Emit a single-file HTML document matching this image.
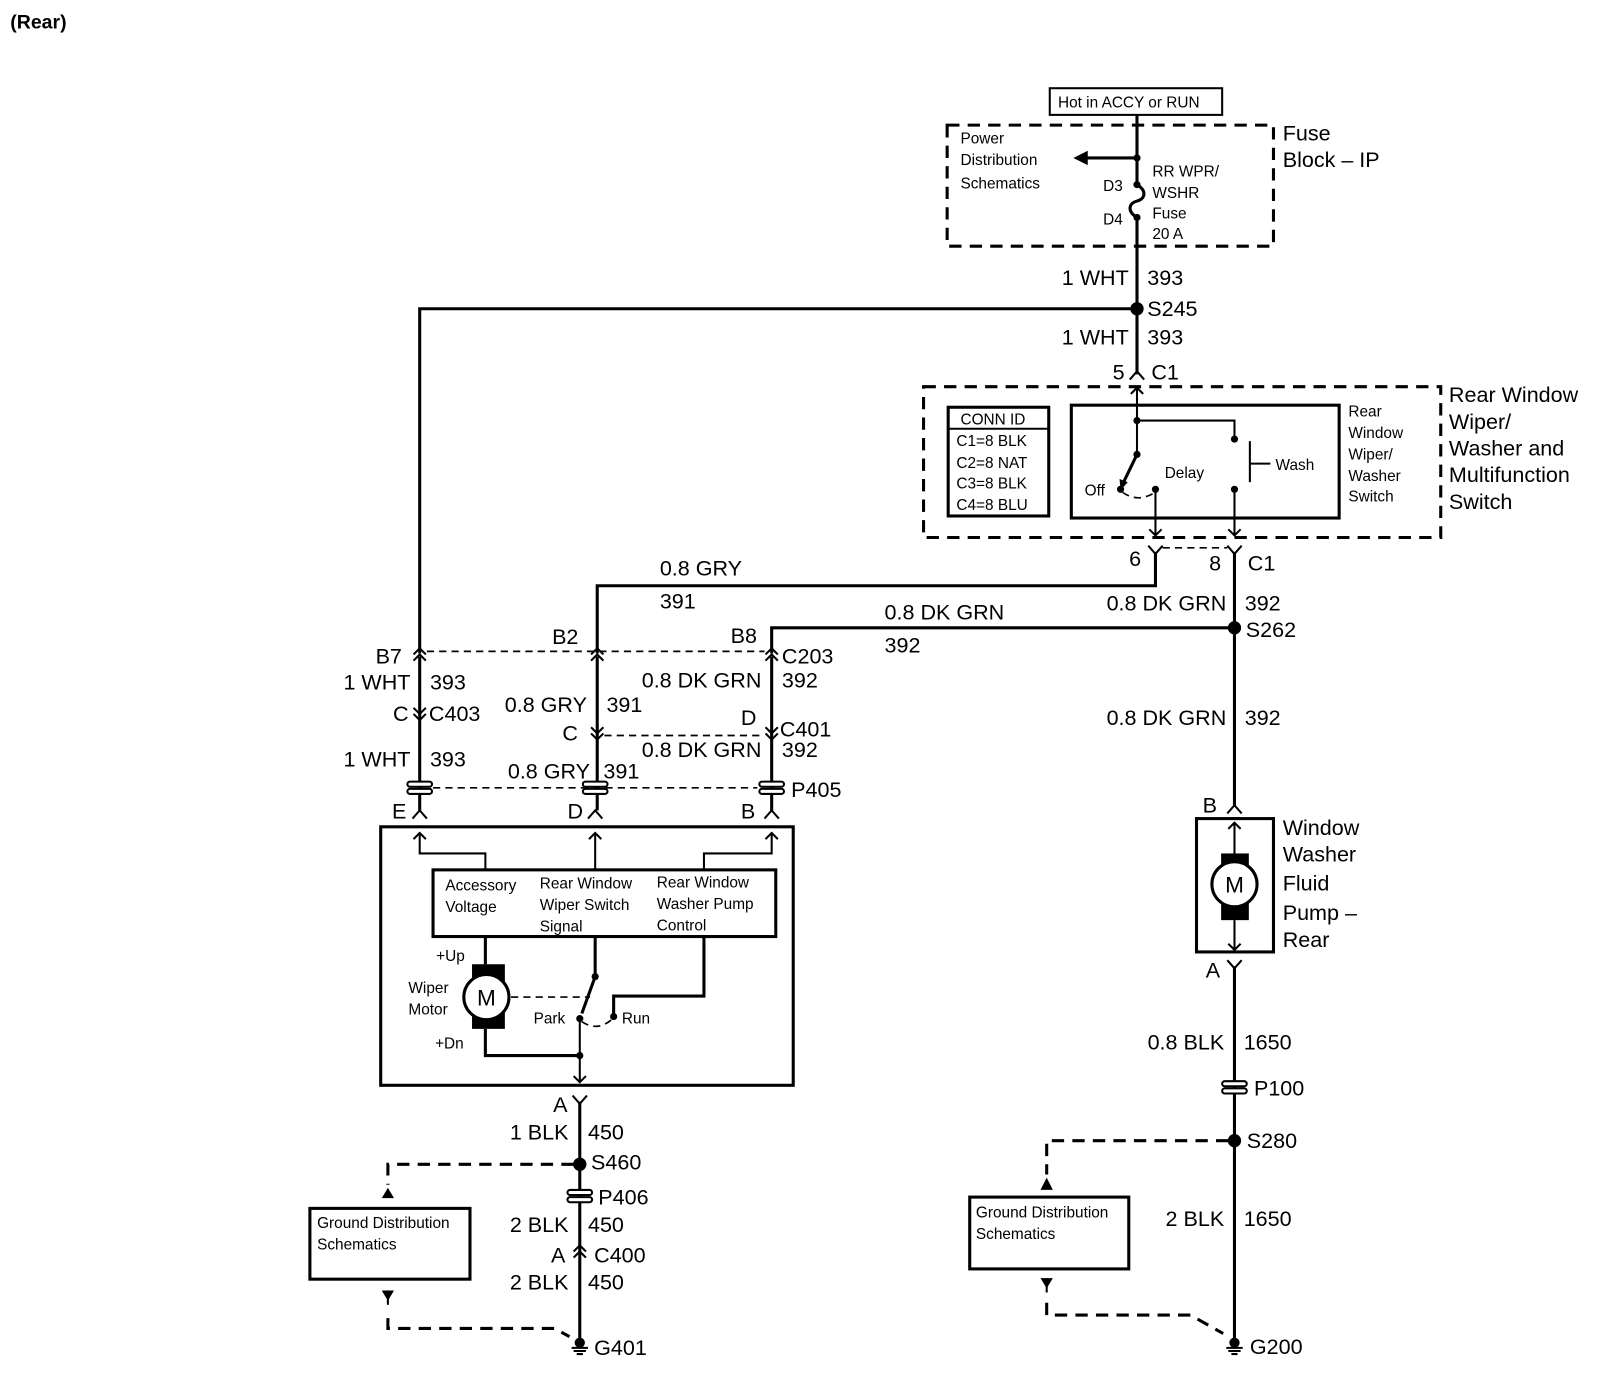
<!DOCTYPE html>
<html><head><meta charset="utf-8"><style>
html,body{margin:0;padding:0;background:#fff;}
svg{display:block;}
text{font-family:"Liberation Sans",Arial,sans-serif;fill:#000;}
.b{font-size:21px;}
.s{font-size:15px;}
.w{stroke:#000;stroke-width:3;fill:none;}
.t{stroke:#000;stroke-width:2;fill:none;}
.d{stroke:#000;stroke-width:3;fill:none;stroke-dasharray:12 8;}
.dd{stroke:#000;stroke-width:1.6;fill:none;stroke-dasharray:7 5;}
</style></head><body>
<svg width="1608" height="1392" viewBox="0 0 1567 1357" preserveAspectRatio="none" xmlns="http://www.w3.org/2000/svg">
<defs>
<g id="up2"><path class="t" d="M-6 -2 L0 -8 L6 -2 M-6 4 L0 -2 L6 4"/></g>
<g id="dn2"><path class="t" d="M-6 2 L0 8 L6 2 M-6 -4 L0 2 L6 -4"/></g>
<g id="fem"><path class="t" d="M-7 6 L0 -2 L7 6"/></g>
<g id="male"><path class="t" d="M-7 -6 L0 2 L7 -6"/></g>
<g id="aup"><path class="t" d="M-6 6 L0 0 L6 6"/></g>
<g id="adn"><path class="t" d="M-6 -6 L0 0 L6 -6"/></g>
<g id="pass"><rect x="-12" y="-6" width="24" height="5" rx="2.5" fill="#fff" stroke="#000" stroke-width="2"/><rect x="-12" y="1" width="24" height="5" rx="2.5" fill="#fff" stroke="#000" stroke-width="2"/></g>
<g id="gnd"><circle cx="0" cy="-3" r="5"/><path class="t" d="M-8 2 H8 M-6 5 H6 M-3 8 H3"/></g>
</defs>

<text x="10" y="28" font-size="19" font-weight="bold">(Rear)</text>

<rect x="1023" y="86" width="168" height="26" class="t" stroke-width="2.5"/>
<text x="1031" y="105" class="s">Hot in ACCY or RUN</text>
<rect x="923" y="122" width="318" height="118" class="d"/>
<path class="w" d="M1108 112 V180 M1108 212 V365"/>
<path class="w" d="M1108 180 C1118 186 1116 194 1108 196 C1100 198 1098 206 1108 212"/>
<path class="w" d="M1108 154 H1056"/><path d="M1046 154 L1060 147 L1060 161 Z"/>
<circle cx="1108" cy="154" r="3.5"/><circle cx="1108" cy="180" r="3.5"/><circle cx="1108" cy="212" r="3.5"/>
<text x="936" y="140" class="s">Power</text><text x="936" y="161" class="s">Distribution</text><text x="936" y="184" class="s">Schematics</text>
<text x="1075" y="186" class="s">D3</text><text x="1075" y="219" class="s">D4</text>
<text x="1123" y="172" class="s">RR WPR/</text><text x="1123" y="193" class="s">WSHR</text><text x="1123" y="213" class="s">Fuse</text><text x="1123" y="233" class="s">20 A</text>
<text x="1250" y="137" class="b">Fuse</text><text x="1250" y="163" class="b">Block – IP</text>

<text x="1100" y="278" class="b" text-anchor="end">1 WHT</text><text x="1118" y="278" class="b">393</text>
<circle cx="1108" cy="301" r="6.5"/><text x="1118" y="308" class="b">S245</text>
<path class="w" d="M1108 301 H409 V637"/>
<text x="1100" y="336" class="b" text-anchor="end">1 WHT</text><text x="1118" y="336" class="b">393</text>
<use href="#fem" x="1108" y="364"/>
<text x="1096" y="370" class="b" text-anchor="end">5</text><text x="1122" y="370" class="b">C1</text>

<rect x="900" y="377" width="504" height="147" class="d"/>
<rect x="924" y="397" width="98" height="106" class="w"/>
<line x1="924" y1="418" x2="1022" y2="418" class="t"/>
<text x="936" y="414" class="s">CONN ID</text>
<text x="932" y="435" class="s">C1=8 BLK</text><text x="932" y="456" class="s">C2=8 NAT</text>
<text x="932" y="476" class="s">C3=8 BLK</text><text x="932" y="497" class="s">C4=8 BLU</text>
<rect x="1044" y="395" width="261" height="110" class="w"/>
<path class="t" d="M1108 378 V443 M1108 410 H1203 V428"/><use href="#aup" x="1108" y="378"/>
<circle cx="1108" cy="410" r="3.5"/><circle cx="1108" cy="443" r="3.5"/><circle cx="1203" cy="428" r="3.5"/>
<path class="w" d="M1108 443 L1094 472"/><path d="M1092 478 L1091 467 L1099 470 Z"/>
<circle cx="1092" cy="477" r="3.5"/><circle cx="1126" cy="477" r="3.5"/><circle cx="1203" cy="477" r="3.5"/>
<path class="dd" d="M1094 480 Q1108 490 1124 481"/>
<text x="1057" y="483" class="s">Off</text><text x="1135" y="466" class="s">Delay</text><text x="1243" y="458" class="s">Wash</text>
<path class="t" d="M1218 430 V470 M1218 452 H1238"/>
<path class="t" d="M1126 477 V522 M1203 477 V522"/>
<use href="#adn" x="1126" y="522"/><use href="#adn" x="1203" y="522"/>
<text x="1314" y="406" class="s">Rear</text><text x="1314" y="427" class="s">Window</text><text x="1314" y="448" class="s">Wiper/</text><text x="1314" y="469" class="s">Washer</text><text x="1314" y="489" class="s">Switch</text>
<text x="1412" y="392" class="b">Rear Window</text><text x="1412" y="418" class="b">Wiper/</text><text x="1412" y="444" class="b">Washer and</text><text x="1412" y="470" class="b">Multifunction</text><text x="1412" y="496" class="b">Switch</text>

<use href="#male" x="1126" y="538"/><use href="#male" x="1203" y="538"/>
<path class="dd" d="M1133 534 H1196"/>
<text x="1112" y="552" class="b" text-anchor="end">6</text><text x="1190" y="556" class="b" text-anchor="end">8</text><text x="1216" y="556" class="b">C1</text>

<path class="w" d="M1126 538 V571 H582 V637"/>
<text x="643" y="561" class="b">0.8 GRY</text><text x="643" y="593" class="b">391</text>
<path class="w" d="M1203 538 V785 M1203 612 H752 V637"/>
<circle cx="1203" cy="612" r="6.5"/>
<text x="1195" y="595" class="b" text-anchor="end">0.8 DK GRN</text><text x="1213" y="595" class="b">392</text>
<text x="1214" y="621" class="b">S262</text>
<text x="862" y="604" class="b">0.8 DK GRN</text><text x="862" y="636" class="b">392</text>

<path class="dd" d="M416 635 H745"/>
<use href="#up2" x="409" y="640"/><use href="#up2" x="582" y="640"/><use href="#up2" x="752" y="640"/>
<text x="366" y="647" class="b">B7</text><text x="538" y="628" class="b">B2</text><text x="712" y="627" class="b">B8</text><text x="762" y="647" class="b">C203</text>
<path class="w" d="M409 640 V790 M582 640 V790 M752 640 V790"/>
<text x="400" y="672" class="b" text-anchor="end">1 WHT</text><text x="419" y="672" class="b">393</text>
<use href="#dn2" x="409" y="694"/>
<text x="383" y="703" class="b">C</text><text x="418" y="703" class="b">C403</text>
<text x="572" y="694" class="b" text-anchor="end">0.8 GRY</text><text x="591" y="694" class="b">391</text>
<text x="742" y="670" class="b" text-anchor="end">0.8 DK GRN</text><text x="762" y="670" class="b">392</text>
<path class="dd" d="M589 717 H745"/>
<use href="#dn2" x="582" y="713"/><use href="#dn2" x="752" y="713"/>
<text x="548" y="722" class="b">C</text><text x="722" y="707" class="b">D</text><text x="760" y="718" class="b">C401</text>
<text x="742" y="738" class="b" text-anchor="end">0.8 DK GRN</text><text x="762" y="738" class="b">392</text>
<text x="400" y="747" class="b" text-anchor="end">1 WHT</text><text x="419" y="747" class="b">393</text>
<text x="575" y="759" class="b" text-anchor="end">0.8 GRY</text><text x="588" y="759" class="b">391</text>
<path class="dd" d="M422 768 H738"/>
<use href="#pass" x="409" y="768"/><use href="#pass" x="580" y="768"/><use href="#pass" x="752" y="768"/>
<text x="771" y="777" class="b">P405</text>
<use href="#fem" x="409" y="792"/><use href="#fem" x="580" y="792"/><use href="#fem" x="752" y="792"/>
<text x="382" y="798" class="b">E</text><text x="553" y="798" class="b">D</text><text x="722" y="798" class="b">B</text>

<rect x="371" y="806" width="402" height="252" class="w"/>
<path class="t" d="M409 812 V832 H473 V848 M580 812 V848 M752 812 V832 H686 V848"/>
<use href="#aup" x="409" y="812"/><use href="#aup" x="580" y="812"/><use href="#aup" x="752" y="812"/>
<rect x="422" y="848" width="334" height="65" class="w"/>
<text x="434" y="868" class="s">Accessory</text><text x="434" y="889" class="s">Voltage</text>
<text x="526" y="866" class="s">Rear Window</text><text x="526" y="887" class="s">Wiper Switch</text><text x="526" y="908" class="s">Signal</text>
<text x="640" y="865" class="s">Rear Window</text><text x="640" y="886" class="s">Washer Pump</text><text x="640" y="907" class="s">Control</text>
<path class="w" d="M473 913 V940 M473 1003 V1029 H565"/>
<rect x="460" y="940" width="32" height="63"/>
<circle cx="474" cy="972" r="22" fill="#fff" stroke="#000" stroke-width="3"/>
<text x="474" y="980" font-size="22" text-anchor="middle">M</text>
<text x="425" y="937" class="s">+Up</text><text x="398" y="968" class="s">Wiper</text><text x="398" y="989" class="s">Motor</text><text x="424" y="1022" class="s">+Dn</text>
<path class="dd" d="M498 972 H575"/>
<path class="w" d="M580 913 V952 L567 988 M686 913 V971 H598 V991"/>
<circle cx="580" cy="952" r="3.5"/><circle cx="565" cy="993" r="3.5"/><circle cx="598" cy="991" r="3.5"/>
<path class="dd" d="M567 996 Q582 1006 596 994"/>
<text x="520" y="998" class="s">Park</text><text x="606" y="998" class="s">Run</text>
<path class="t" d="M565 993 V1055"/><circle cx="565" cy="1029" r="3.5"/><use href="#adn" x="565" y="1055"/>

<use href="#male" x="565" y="1074"/>
<path class="w" d="M565 1074 V1308"/>
<text x="539" y="1084" class="b">A</text>
<text x="554" y="1111" class="b" text-anchor="end">1 BLK</text><text x="573" y="1111" class="b">450</text>
<circle cx="565" cy="1135" r="6.5"/><text x="576" y="1140" class="b">S460</text>
<path class="d" d="M559 1135 H378 V1155" stroke-width="2.5"/>
<path d="M378 1158 L372 1168 L384 1168 Z"/>
<use href="#pass" x="565" y="1166"/><text x="583" y="1174" class="b">P406</text>
<text x="554" y="1201" class="b" text-anchor="end">2 BLK</text><text x="573" y="1201" class="b">450</text>
<use href="#up2" x="565" y="1222"/>
<text x="537" y="1231" class="b">A</text><text x="579" y="1231" class="b">C400</text>
<text x="554" y="1257" class="b" text-anchor="end">2 BLK</text><text x="573" y="1257" class="b">450</text>
<use href="#gnd" x="565" y="1312"/><text x="579" y="1321" class="b">G401</text>
<rect x="302" y="1178" width="156" height="69" class="w"/>
<text x="309" y="1197" class="s">Ground Distribution</text><text x="309" y="1218" class="s">Schematics</text>
<path d="M372 1258 L384 1258 L378 1268 Z"/><path class="t" d="M378 1258 V1272"/>
<path class="d" d="M378 1285 V1295 H540 L555 1303" stroke-width="2"/>

<use href="#fem" x="1203" y="787"/>
<text x="1195" y="707" class="b" text-anchor="end">0.8 DK GRN</text><text x="1213" y="707" class="b">392</text>
<text x="1172" y="792" class="b">B</text>
<rect x="1166" y="798" width="75" height="130" class="w"/>
<path class="t" d="M1203 802 V832 M1203 897 V926"/><use href="#aup" x="1203" y="802"/><use href="#adn" x="1203" y="926"/>
<rect x="1190" y="832" width="27" height="65"/>
<circle cx="1203" cy="862" r="22" fill="#fff" stroke="#000" stroke-width="3"/>
<text x="1203" y="870" font-size="22" text-anchor="middle">M</text>
<text x="1250" y="814" class="b">Window</text><text x="1250" y="840" class="b">Washer</text><text x="1250" y="868" class="b">Fluid</text><text x="1250" y="897" class="b">Pump –</text><text x="1250" y="923" class="b">Rear</text>
<use href="#male" x="1203" y="942"/>
<path class="w" d="M1203 942 V1306"/>
<text x="1175" y="953" class="b">A</text>
<text x="1193" y="1023" class="b" text-anchor="end">0.8 BLK</text><text x="1212" y="1023" class="b">1650</text>
<use href="#pass" x="1203" y="1060"/><text x="1222" y="1068" class="b">P100</text>
<circle cx="1203" cy="1112" r="6.5"/><text x="1215" y="1119" class="b">S280</text>
<path class="d" d="M1197 1112 H1020 V1145" stroke-width="2.5"/>
<path d="M1020 1148 L1014 1160 L1026 1160 Z"/>
<rect x="945" y="1167" width="155" height="70" class="w"/>
<text x="951" y="1187" class="s">Ground Distribution</text><text x="951" y="1208" class="s">Schematics</text>
<text x="1193" y="1195" class="b" text-anchor="end">2 BLK</text><text x="1212" y="1195" class="b">1650</text>
<path d="M1014 1246 L1026 1246 L1020 1256 Z"/><path class="t" d="M1020 1246 V1260"/>
<path class="d" d="M1020 1270 V1282 H1160 L1192 1300" stroke-width="2"/>
<use href="#gnd" x="1203" y="1312"/><text x="1218" y="1320" class="b">G200</text>
</svg>
</body></html>
